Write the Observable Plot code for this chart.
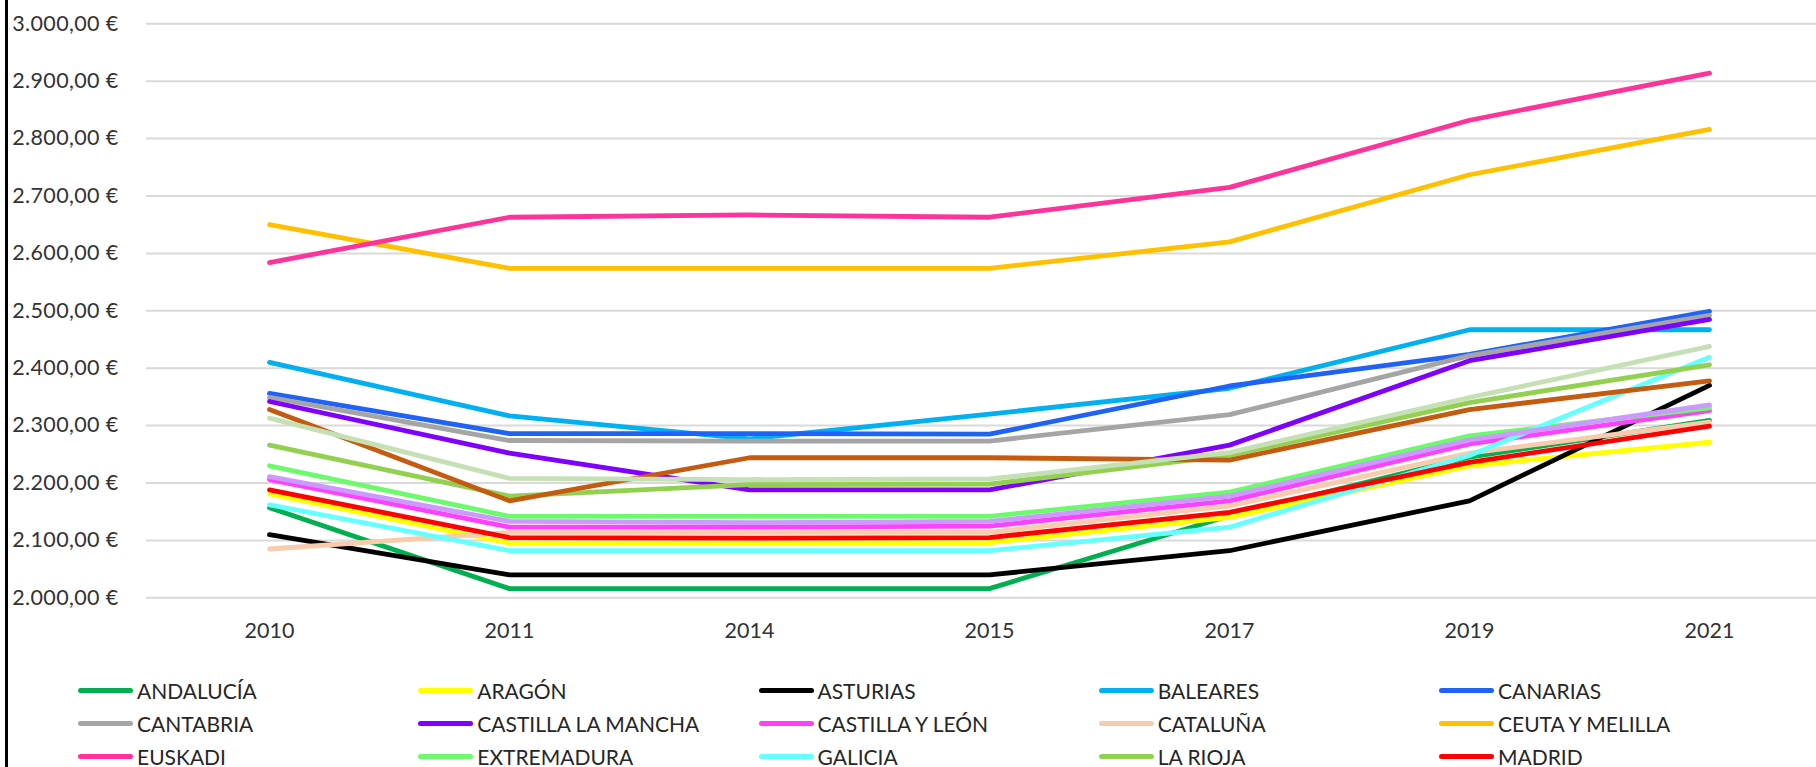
<!DOCTYPE html>
<html><head><meta charset="utf-8">
<script src="https://cdn.jsdelivr.net/npm/d3@7"></script>
<script src="https://cdn.jsdelivr.net/npm/@observablehq/plot@0.6"></script>
<style>
html,body{margin:0;padding:0;background:#fff;overflow:hidden;}
#wrap{position:relative;width:1816px;height:767px;font-family:Lato,sans-serif;overflow:hidden;}
#border{position:absolute;left:5px;top:0;width:3px;height:767px;background:#000;}
#legend{position:absolute;left:0;top:660px;width:1816px;height:107px;}
.item{position:absolute;display:flex;align-items:center;height:30px;}
.sw{width:55px;height:5px;border-radius:3px;margin-right:4px;flex:none;}
.lbl{font-size:21px;color:#262626;white-space:nowrap;}
#chart svg g[aria-label="y-axis tick label"] text{letter-spacing:0.35px;}
</style></head><body><div id="wrap"><div id="chart"></div><div id="legend"></div><div id="border"></div></div>
<script>
const years = ["2010","2011","2014","2015","2017","2019","2021"];
const regions = ["ANDALUCÍA","ARAGÓN","ASTURIAS","BALEARES","CANARIAS","CANTABRIA","CASTILLA LA MANCHA","CASTILLA Y LEÓN","CATALUÑA","CEUTA Y MELILLA","EUSKADI","EXTREMADURA","GALICIA","LA RIOJA","MADRID","MURCIA","NAVARRA","C. VALENCIANA"];
const colors = ["#00B050","#FFFF00","#000000","#00B0F0","#1F62F5","#A5A5A5","#7F00FF","#FF40FF","#F8CBAD","#FFC000","#FF3399","#6CFA6C","#66FFFF","#92D050","#FF0000","#C55A11","#C5E0B4","#CC99FF"];
const legendCount = 15; // entries visible in the reference picture

const andalucia   = [2157, 2016, 2016, 2016, 2143, 2245, 2309];
const aragon      = [2181, 2095, 2095, 2096, 2140, 2230, 2271];
const asturias    = [2110, 2040, 2040, 2040, 2082, 2169, 2370];
const baleares    = [2410, 2317, 2277, 2320, 2365, 2467, 2467];
const canarias    = [2356, 2286, 2286, 2285, 2369, 2424, 2499];
const cantabria   = [2349, 2274, 2273, 2273, 2319, 2422, 2492];
const clm         = [2342, 2252, 2188, 2188, 2266, 2413, 2485];
const cyl         = [2206, 2123, 2123, 2125, 2169, 2268, 2326];
const cataluna    = [2085, 2114, 2114, 2114, 2160, 2252, 2306];
const ceuta       = [2650, 2574, 2574, 2574, 2620, 2737, 2816];
const euskadi     = [2584, 2663, 2667, 2663, 2715, 2832, 2914];
const extremadura = [2230, 2142, 2142, 2142, 2184, 2282, 2331];
const galicia     = [2162, 2082, 2082, 2082, 2123, 2248, 2419];
const larioja     = [2266, 2177, 2197, 2198, 2248, 2340, 2406];
const madrid      = [2188, 2105, 2104, 2105, 2149, 2236, 2299];
const murcia      = [2328, 2169, 2244, 2244, 2240, 2328, 2378];
const navarra     = [2313, 2208, 2206, 2207, 2253, 2349, 2438];
const valencia    = [2211, 2133, 2131, 2133, 2177, 2275, 2336];

const yTicks = [2000,2100,2200,2300,2400,2500,2600,2700,2800,2900,3000];

const seriesValues = [andalucia, aragon, asturias, baleares, canarias, cantabria, clm, cyl, cataluna, ceuta, euskadi, extremadura, galicia, larioja, madrid, murcia, navarra, valencia];
const data = [];
regions.forEach((r, i) => seriesValues[i].forEach((v, j) => data.push({region: r, year: years[j], value: v})));

const fmt = d3.formatLocale({decimal: ",", thousands: ".", grouping: [3], currency: ["", " €"]}).format("$,.2f");

const chart = Plot.plot({
  width: 1816, height: 660,
  marginTop: 23.3, marginBottom: 62.7, marginLeft: 146, marginRight: 0,
  style: {fontFamily: "Lato, sans-serif", fontSize: "21px", color: "#333333", background: "transparent"},
  x: {type: "point", domain: years, range: [146, 1832], padding: 0.5, label: null},
  y: {domain: [2000, 3000], label: null},
  color: {domain: regions, range: colors},
  marks: [
    Plot.gridY(yTicks, {stroke: "#D9D9D9", strokeOpacity: 1, strokeWidth: 2}),
    Plot.axisY(yTicks, {tickSize: 0, tickPadding: 28, tickFormat: fmt, label: null, fontSize: 21.5}),
    Plot.axisX({tickSize: 0, tickPadding: 25, label: null, fontSize: 21.5}),
    Plot.line(data, {x: "year", y: "value", z: "region", stroke: "region", strokeWidth: 4.8, strokeLinecap: "round", strokeLinejoin: "round"})
  ]
});
document.getElementById("chart").appendChild(chart);

const legend = document.getElementById("legend");
regions.slice(0, legendCount).forEach((r, i) => {
  const col = i % 5, row = Math.floor(i / 5);
  const item = document.createElement("div");
  item.className = "item";
  item.style.left = (78 + col * 340.25) + "px";
  item.style.top = (15 + row * 33) + "px";
  const sw = document.createElement("div");
  sw.className = "sw";
  sw.style.background = colors[i];
  const lbl = document.createElement("span");
  lbl.className = "lbl";
  lbl.textContent = r;
  item.appendChild(sw); item.appendChild(lbl);
  legend.appendChild(item);
});
</script></body></html>
